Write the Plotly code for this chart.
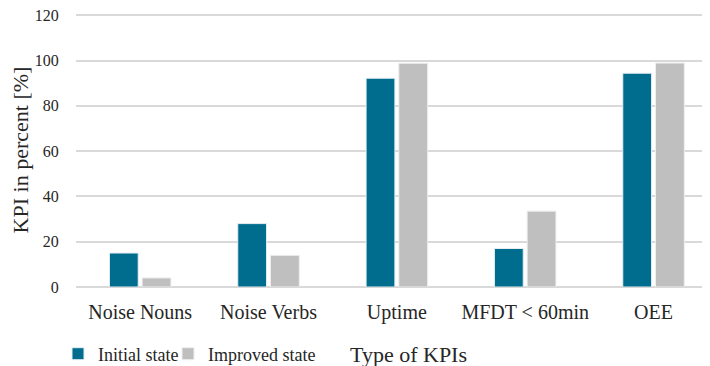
import plotly.graph_objects as go

categories = ["Noise Nouns", "Noise Verbs", "Uptime", "MFDT < 60min", "OEE"]
initial_state = [15, 28, 92.2, 17, 94.4]
improved_state = [4, 14, 98.8, 33.5, 98.9]
y_ticks = [0, 20, 40, 60, 80, 100, 120]

FONT = "Liberation Serif"
TEAL = "#006D8F"
GREY = "#BFBFBF"
TXT = "#262626"

# the page body has an 8px margin, so the figure is 702x358 placed at (8, 8)
W, H = 702, 358

fig = go.Figure()
fig.add_trace(go.Bar(name="Initial state", x=categories, y=initial_state, legendwidth=65,
                     marker=dict(color=TEAL, line=dict(color="#E6EEF2", width=1))))
fig.add_trace(go.Bar(name="Improved state", x=categories, y=improved_state, legendwidth=130,
                     marker=dict(color=GREY, line=dict(color="#EEEEEE", width=1))))

fig.update_layout(
    template="none",
    width=W, height=H,
    margin=dict(l=68, r=0, t=4.7, b=79, autoexpand=False),
    paper_bgcolor="white", plot_bgcolor="white",
    barmode="group", bargap=0.49, bargroupgap=0.12,
    font=dict(family=FONT, color=TXT),
    showlegend=True,
    legend=dict(orientation="h", xref="container", yref="container",
                x=50 / W, y=12 / H, xanchor="left", yanchor="middle",
                font=dict(size=18, family=FONT, color=TXT),
                itemwidth=30, tracegroupgap=0,
                bgcolor="rgba(0,0,0,0)", borderwidth=0),
    annotations=[dict(text="Type of KPIs", xref="paper", yref="paper",
                      x=0.525, y=-0.245, xanchor="center", yanchor="middle",
                      showarrow=False, font=dict(size=22, family=FONT, color=TXT))],
)
fig.update_xaxes(type="category", range=[-0.5, 4.44], automargin=False,
                 tickfont=dict(size=20, family=FONT, color=TXT),
                 ticks="outside", ticklen=7, tickcolor="rgba(0,0,0,0)",
                 showgrid=False, showline=False, zeroline=False)
fig.update_yaxes(range=[0, 121], tickvals=y_ticks, automargin=False,
                 ticklabeloverflow="allow",
                 tickfont=dict(size=16, family=FONT, color=TXT),
                 ticks="outside", ticklen=13, tickcolor="rgba(0,0,0,0)",
                 showgrid=True, gridcolor="#D9D9D9", gridwidth=1.5,
                 zeroline=True, zerolinecolor="#D9D9D9", zerolinewidth=1.5,
                 showline=False,
                 title=dict(text="KPI in percent [%]", font=dict(size=22, family=FONT, color=TXT),
                            standoff=4))

fig.write_html("out.html")
